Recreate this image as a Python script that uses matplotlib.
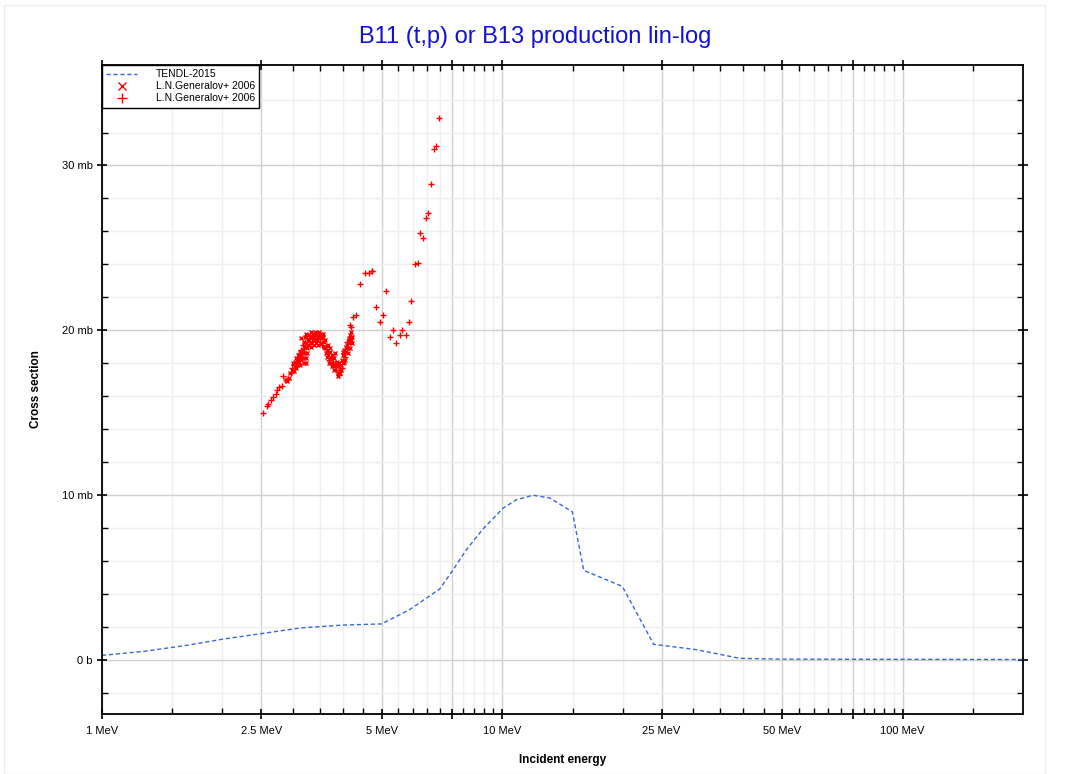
import matplotlib.pyplot as plt
from matplotlib.ticker import FixedLocator, FixedFormatter
from matplotlib.patches import Rectangle

plt.rcParams['font.family'] = ['Liberation Sans', 'DejaVu Sans']

# TENDL-2015 evaluation (MeV, mb)
tendl_e = [1.0, 1.27, 1.63, 2.01, 2.5, 3.12, 4.0, 5.0, 5.87, 6.98, 7.54, 8.14, 8.95,
           10.05, 10.85, 11.94, 13.14, 14.97, 15.98, 19.95, 23.9, 30.5, 39.2, 50.0,
           100.0, 200.0]
tendl_xs = [0.26, 0.5, 0.87, 1.25, 1.58, 1.92, 2.1, 2.17, 3.04, 4.29, 5.46, 6.68, 7.93,
            9.2, 9.71, 9.98, 9.82, 8.97, 5.42, 4.45, 0.93, 0.61, 0.08, 0.03, 0.02, 0.01]

# L.N.Generalov+ 2006, '+' series
gen_p_e = [2.53, 2.58, 2.60, 2.64, 2.68, 2.72, 2.74, 2.77, 2.81, 2.83, 2.89, 2.92, 2.96,
           2.99, 3.02, 3.06, 3.09, 3.12, 3.15, 3.18, 3.21, 3.25, 3.30, 3.35, 3.40, 3.45,
           3.50, 3.55, 3.63, 3.70, 3.77, 3.85, 3.92, 3.98, 4.05, 4.10, 4.16, 4.19, 4.23,
           4.32, 4.42, 4.54, 4.64, 4.74, 4.73, 4.83, 4.94, 5.03, 5.13, 5.24, 5.34, 5.43,
           5.54, 5.62, 5.74, 5.84, 5.93, 6.04, 6.16, 6.23, 6.34, 6.44, 6.54, 6.64, 6.75,
           6.85, 6.94]
gen_p_xs = [14.98, 15.38, 15.54, 15.79, 15.95, 16.15, 16.35, 16.53, 16.64, 17.2, 17.0,
            17.06, 17.4, 17.7, 17.9, 18.1, 18.3, 18.6, 18.8, 19.1, 19.3, 19.5, 19.3, 19.7,
            19.5, 19.8, 19.3, 19.1, 19.0, 18.2, 18.1, 17.6, 17.3, 17.7, 18.4, 19.3, 20.3,
            20.2, 20.8, 20.9, 22.8, 23.48, 23.48, 23.6, 23.6, 21.4, 20.5, 20.9, 22.4, 19.6,
            20.0, 19.2, 19.7, 20.0, 19.7, 20.5, 21.8, 24.0, 24.1, 25.9, 25.6, 26.8, 27.1,
            28.9, 31.0, 31.2, 32.9]

# L.N.Generalov+ 2006, 'x' series
gen_x_e = [2.88, 2.90, 2.93, 2.98, 3.00, 3.03, 3.05, 3.07, 3.09, 3.10, 3.11, 3.13, 3.14,
           3.16, 3.17, 3.19, 3.20, 3.21, 3.22, 3.23, 3.24, 3.26, 3.28, 3.31, 3.33, 3.36,
           3.38, 3.42, 3.43, 3.47, 3.49, 3.52, 3.54, 3.57, 3.59, 3.60, 3.62, 3.65, 3.66,
           3.68, 3.71, 3.73, 3.74, 3.76, 3.79, 3.80, 3.82, 3.83, 3.86, 3.88, 3.90, 3.93,
           3.95, 3.97, 4.00, 4.02, 4.03, 4.07, 4.08, 4.12, 4.13, 4.15, 4.17, 4.18, 4.20,
           4.22,
           3.15, 3.19, 3.24, 3.27, 3.29, 3.32, 3.34, 3.37, 3.39, 3.41, 3.44, 3.46, 3.48,
           3.51, 3.53, 3.56, 3.58, 3.61, 3.64, 3.67,
           3.69, 3.72, 3.75, 3.78, 3.81, 3.84, 3.87, 3.89, 3.91, 3.94, 3.96,
           3.99, 4.01, 4.04, 4.06, 4.09, 4.11, 4.14, 4.16, 4.19, 4.21,
           2.95, 3.01, 3.04, 3.06, 3.08, 3.12, 3.14, 3.18, 3.20, 3.23, 3.25]
gen_x_xs = [17.0, 16.9, 17.1, 17.6, 18.0, 17.8, 18.3, 17.9, 18.5, 18.4, 18.1, 18.7, 18.5,
            18.3, 18.8, 18.0, 19.0, 19.6, 18.6, 19.2, 18.3, 18.9, 19.7, 19.6, 19.0, 19.4,
            19.8, 19.7, 19.2, 19.5, 19.7, 19.8, 19.5, 19.6, 19.3, 18.9, 18.6, 18.4, 18.8,
            18.5, 18.7, 18.3, 18.0, 18.5, 17.8, 18.3, 17.9, 18.6, 18.1, 17.4, 17.8, 17.6,
            17.9, 18.2, 18.5, 18.1, 18.8, 19.0, 18.7, 18.9, 19.5, 19.2, 19.7, 19.4, 19.9,
            19.6,
            19.5, 19.3, 19.8, 19.1, 19.4, 19.9, 19.2, 19.6, 19.1, 19.9, 19.4, 19.1, 19.9,
            19.6, 19.2, 19.8, 19.0, 19.4, 18.7, 19.1,
            18.0, 18.9, 17.8, 18.4, 17.6, 18.0, 17.8, 17.2, 18.0, 17.4, 17.6,
            18.0, 18.7, 18.2, 18.9, 19.1, 18.6, 19.4, 18.9, 19.6, 19.2,
            17.4, 17.5, 18.1, 17.7, 18.2, 17.9, 18.2, 18.6, 18.3, 18.0, 18.6]

x_major = [1, 2.5, 5, 7.5, 10, 25, 50, 75, 100]
x_major_labels = ['1 MeV', '2.5 MeV', '5 MeV', '', '10 MeV', '25 MeV', '50 MeV', '', '100 MeV']
x_minor = [1.5, 2, 3, 3.5, 4, 4.5, 5.5, 6, 6.5, 7, 8, 8.5, 9, 9.5,
           15, 20, 30, 35, 40, 45, 55, 60, 65, 70, 80, 85, 90, 95, 150]
y_major = [0, 10, 20, 30]
y_major_labels = ['0 b', '10 mb', '20 mb', '30 mb']
y_minor = [-2, 2, 4, 6, 8, 12, 14, 16, 18, 22, 24, 26, 28, 32, 34]

fig = plt.figure(figsize=(10.71, 7.74), dpi=100, facecolor='w')
ax = fig.add_axes([0.0952, 0.0775, 0.86, 0.8385])
fig.patches.append(Rectangle((0.004, 0.0), 0.972, 0.994, transform=fig.transFigure,
                             fill=False, edgecolor='#eeeeee', lw=1))

ax.plot(tendl_e, tendl_xs, color='#3a66d8', lw=1, ls=(0, (3, 2)), label='TENDL-2015')
ax.plot(gen_x_e, gen_x_xs, ls='none', marker='x', ms=3.5, mew=1, color='red',
        label='L.N.Generalov+ 2006')
ax.plot(gen_p_e, gen_p_xs, ls='none', marker='+', ms=5, mew=1, color='red',
        label='L.N.Generalov+ 2006')

ax.set_xscale('log')
ax.set_xlim(1, 200)
ax.set_ylim(-3.3, 36.1)

ax.xaxis.set_major_locator(FixedLocator(x_major))
ax.xaxis.set_major_formatter(FixedFormatter(x_major_labels))
ax.xaxis.set_minor_locator(FixedLocator(x_minor))
ax.xaxis.set_minor_formatter(FixedFormatter([''] * len(x_minor)))
ax.yaxis.set_major_locator(FixedLocator(y_major))
ax.yaxis.set_major_formatter(FixedFormatter(y_major_labels))
ax.yaxis.set_minor_locator(FixedLocator(y_minor))

ax.grid(True, which='major', color='#d0d0d0', lw=1)
ax.grid(True, which='minor', color='#efefef', lw=1)
ax.set_axisbelow(True)

ax.tick_params(which='major', direction='inout', length=7, width=1.2, labelsize=8,
               top=True, right=True, color='black')
ax.tick_params(axis='x', which='major', pad=5)
ax.tick_params(axis='y', which='major', pad=3)
ax.tick_params(which='minor', direction='in', length=4, width=1, top=True, right=True)
for s in ax.spines.values():
    s.set_linewidth(1.3)

ax.set_xlabel('Incident energy', fontsize=8.5, fontweight='bold', labelpad=13)
ax.set_ylabel('Cross section', fontsize=8.5, fontweight='bold', labelpad=14)
fig.suptitle('B11 (t,p) or B13 production lin-log', fontsize=17, color='#1010d8', y=0.966)

leg = ax.legend(loc='upper left', fontsize=7.5, fancybox=False, edgecolor='black',
                framealpha=1, borderaxespad=0, handlelength=3, borderpad=0.4,
                labelspacing=0.2, handletextpad=1.8, markerscale=1.5)
leg.get_frame().set_linewidth(1)

plt.savefig('out.png', dpi=100)
